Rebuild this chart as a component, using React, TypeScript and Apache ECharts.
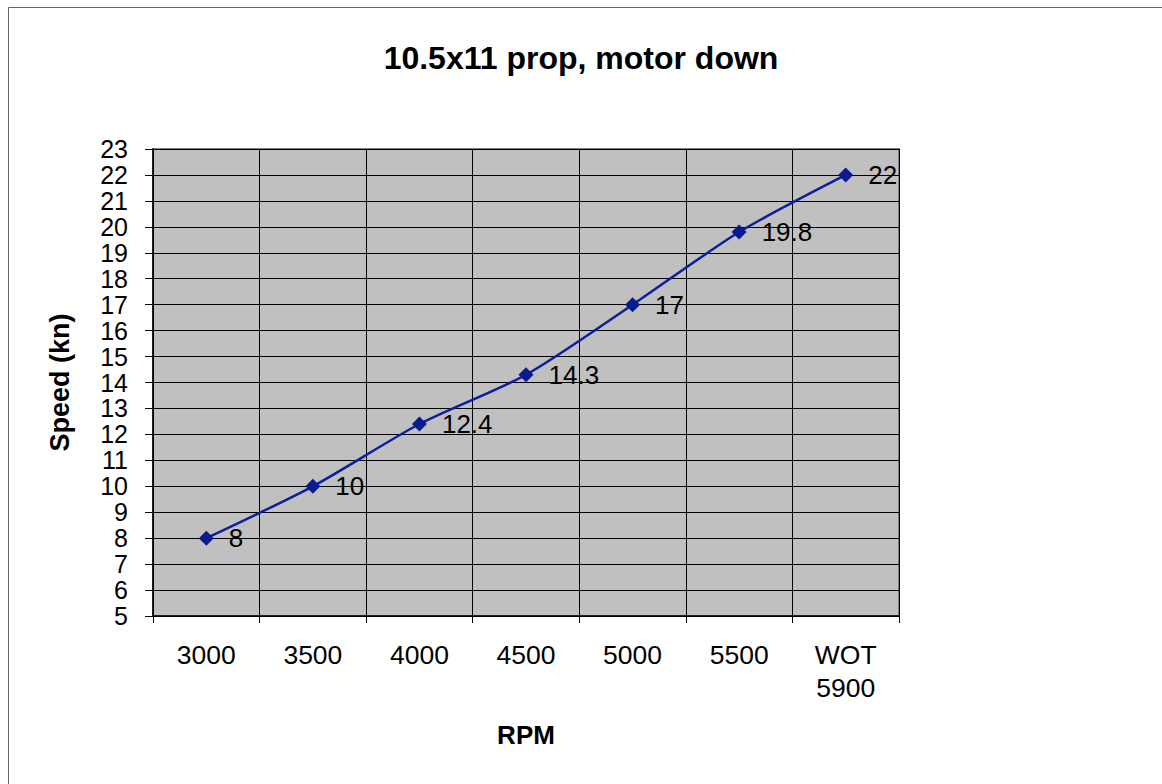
import React, { useEffect, useRef } from "react";
import * as echarts from "echarts";

const titleText = "10.5x11 prop, motor down";
const categories = ["3000", "3500", "4000", "4500", "5000", "5500", "WOT\n5900"];
const speeds = [8, 10, 12.4, 14.3, 17, 19.8, 22];
const yMin = 5;
const yMax = 23;
const yStep = 1;
const xName = "RPM";
const yName = "Speed (kn)";

const FONT = "'Liberation Sans', Arial, Helvetica, sans-serif";

export default function App() {
  const ref = useRef<HTMLDivElement>(null);
  useEffect(() => {
    if (!ref.current) return;
    const chart = echarts.init(ref.current, undefined, { renderer: "svg" });
    chart.setOption({
      animation: false,
      backgroundColor: "#ffffff",
      textStyle: { fontFamily: FONT },
      title: {
        text: titleText,
        left: "center",
        top: 37,
        textStyle: { fontFamily: FONT, fontSize: 32, fontWeight: "bold", color: "#000" },
      },
      graphic: [
        {
          type: "rect",
          shape: { x: 8.5, y: 7.5, width: 1300, height: 1000 },
          style: { fill: "none", stroke: "#666", lineWidth: 1 },
          silent: true,
          z: -10,
        },
      ],
      grid: {
        left: 153,
        top: 149,
        right: 263,
        bottom: 168,
        show: true,
        backgroundColor: "#C0C0C0",
        borderColor: "#808080",
        borderWidth: 2,
      },
      xAxis: {
        type: "category",
        data: categories,
        boundaryGap: true,
        name: xName,
        nameLocation: "middle",
        nameGap: 106,
        nameTextStyle: { fontFamily: FONT, fontSize: 26, fontWeight: "bold", color: "#000" },
        axisLine: { show: true, lineStyle: { color: "#000", width: 1.5 } },
        axisTick: { show: true, length: 7, alignWithLabel: false, lineStyle: { color: "#000" } },
        axisLabel: {
          fontFamily: FONT,
          fontSize: 26.5,
          color: "#000",
          margin: 22,
          lineHeight: 33,
          interval: 0,
        },
        splitLine: { show: true, lineStyle: { color: "#000", width: 1 } },
      },
      yAxis: {
        type: "value",
        min: yMin,
        max: yMax,
        interval: yStep,
        name: yName,
        nameLocation: "middle",
        nameGap: 80,
        nameTextStyle: { fontFamily: FONT, fontSize: 27, fontWeight: "bold", color: "#000" },
        axisLine: { show: true, lineStyle: { color: "#000", width: 1.5 } },
        axisTick: { show: true, length: 8, lineStyle: { color: "#000" } },
        axisLabel: { fontFamily: FONT, fontSize: 25, color: "#000", margin: 25 },
        splitLine: { show: true, lineStyle: { color: "#000", width: 1 } },
      },
      series: [
        {
          type: "line",
          data: speeds,
          smooth: 0.25,
          symbol: "diamond",
          symbolSize: 15,
          itemStyle: { color: "#0a1a8f" },
          lineStyle: { color: "#0d1f9c", width: 2.5 },
          label: {
            show: true,
            position: "right",
            distance: 15,
            fontFamily: FONT,
            fontSize: 26,
            color: "#000",
          },
        },
      ],
    });
    return () => chart.dispose();
  }, []);
  return (
    <div
      ref={ref}
      style={{ position: "fixed", left: 0, top: 0, width: 1162, height: 784 }}
    />
  );
}
